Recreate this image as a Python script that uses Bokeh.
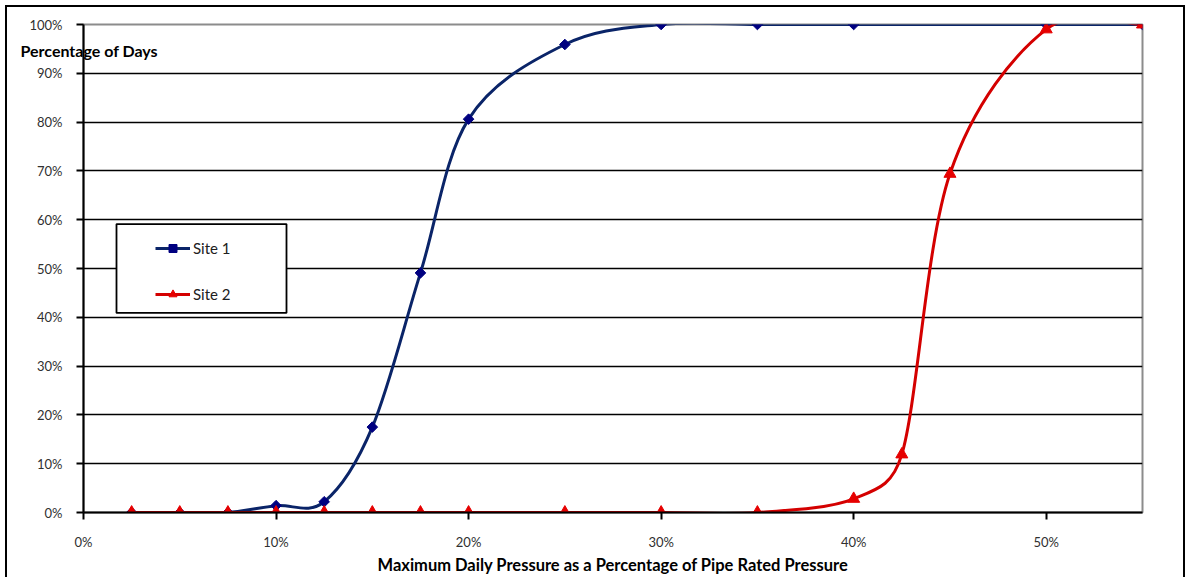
import math
from bokeh.plotting import figure
from bokeh.models import (Range1d, FixedTicker, PrintfTickFormatter, Legend, LegendItem,
                          BoxAnnotation, Title)
from bokeh.embed import file_html
from bokeh.resources import INLINE

# ---- data ----
site1_x = [2.5, 5, 7.5, 10, 12.5, 15, 17.5, 20, 25, 30, 35, 40, 50, 55]
site1_y = [0, 0, 0, 1.4, 2.2, 17.5, 49.1, 80.6, 95.9, 100, 100, 100, 100, 100]
site2_x = [2.5, 5, 7.5, 10, 12.5, 15, 17.5, 20, 25, 30, 35, 40, 42.5, 45, 50, 55]
site2_y = [0, 0, 0, 0, 0, 0, 0, 0, 0, 0, 0, 2.8, 11.9, 69.4, 99.0, 100]
x_ticks = [0, 10, 20, 30, 40, 50]
y_ticks = [0, 10, 20, 30, 40, 50, 60, 70, 80, 90, 100]

FONT = "Lato"
W, H = 1185, 577
ML, MR, MT, MB = 83, 43, 24, 59
X0, X1, Y0, Y1 = 0, 55, 0, 100
SX = (W - ML - MR) / (X1 - X0)   # px per data unit
SY = (H - MT - MB) / (Y1 - Y0)


def smooth_segments(xs, ys):
    """Excel-style smoothed line: cubic Bezier control points per segment."""
    pts = list(zip(xs, ys))
    n = len(pts)

    def dist(a, b):
        return math.hypot((a[0] - b[0]) * SX, (a[1] - b[1]) * SY)

    out = {k: [] for k in ("x0", "y0", "x1", "y1", "cx0", "cy0", "cx1", "cy1")}
    for i in range(n - 1):
        p0 = pts[i - 1] if i > 0 else pts[i]
        p1, p2 = pts[i], pts[i + 1]
        p3 = pts[i + 2] if i + 2 < n else pts[i + 1]
        d12, d02, d13 = dist(p1, p2), dist(p0, p2), dist(p1, p3)
        f1 = f2 = 1 / 6
        if d02 > 0 and d02 / 6 > d12 / 2:
            f1 = d12 / 2 / d02
        if d13 > 0 and d13 / 6 > d12 / 2:
            f2 = d12 / 2 / d13
        out["x0"].append(p1[0]); out["y0"].append(p1[1])
        out["x1"].append(p2[0]); out["y1"].append(p2[1])
        out["cx0"].append(p1[0] + f1 * (p2[0] - p0[0]))
        out["cy0"].append(p1[1] + f1 * (p2[1] - p0[1]))
        out["cx1"].append(p2[0] - f2 * (p3[0] - p1[0]))
        out["cy1"].append(p2[1] - f2 * (p3[1] - p1[1]))
    return out


# y-axis title as a plot title (side-panel text is not clipped to the frame)
ytitle = Title(text="Percentage of Days", align="left", vertical_align="bottom",
               offset=20 - ML, standoff=-70,
               text_font=FONT, text_font_style="bold", text_font_size="16px",
               text_color="black")

p = figure(width=W, height=H, output_backend="svg", toolbar_location=None,
           x_range=Range1d(X0, X1), y_range=Range1d(Y0, Y1), title=ytitle,
           min_border_left=ML, min_border_right=MR, min_border_top=MT, min_border_bottom=MB)
p.styles = {"box-shadow": "inset 5px 5px 0 0 white, inset 7px 7px 0 0 black, inset -2px 0 0 0 black"}

p.outline_line_color = "#8c8c8c"
p.outline_line_width = 2
p.background_fill_color = "white"
p.border_fill_alpha = 0

p.xgrid.visible = False
p.ygrid.grid_line_color = "black"
p.ygrid.grid_line_width = 1.3

for ax in (p.xaxis[0], p.yaxis[0]):
    ax.axis_line_color = "black"
    ax.axis_line_width = 2
    ax.major_tick_line_color = "black"
    ax.major_tick_line_width = 2
    ax.major_tick_in = 0
    ax.major_tick_out = 7
    ax.minor_tick_line_color = None
    ax.major_label_text_font = FONT
    ax.major_label_text_font_size = "13px"
    ax.major_label_text_color = "#303030"
    ax.major_label_standoff = 14
    ax.formatter = PrintfTickFormatter(format="%d%%")

p.xaxis[0].ticker = FixedTicker(ticks=x_ticks)
p.yaxis[0].ticker = FixedTicker(ticks=y_ticks)
p.xaxis[0].axis_label = "Maximum Daily Pressure as a Percentage of Pipe Rated Pressure"
p.xaxis[0].axis_label_text_font = FONT
p.xaxis[0].axis_label_text_font_style = "bold"
p.xaxis[0].axis_label_text_font_size = "16.5px"
p.xaxis[0].axis_label_text_color = "black"
p.xaxis[0].axis_label_standoff = 2

BLUE_LINE, BLUE_MARK = "#0a2468", "#000080"
RED_LINE, RED_MARK = "#d40000", "#e60000"

s1 = smooth_segments(site1_x, site1_y)
s2 = smooth_segments(site2_x, site2_y)

b1 = p.bezier(source=s1, x0="x0", y0="y0", x1="x1", y1="y1", cx0="cx0", cy0="cy0",
              cx1="cx1", cy1="cy1", line_color=BLUE_LINE, line_width=3)
m1 = p.scatter(site1_x, site1_y, marker="square", angle=math.pi / 4, size=7.5,
               fill_color=BLUE_MARK, line_color=BLUE_MARK)
b2 = p.bezier(source=s2, x0="x0", y0="y0", x1="x1", y1="y1", cx0="cx0", cy0="cy0",
              cx1="cx1", cy1="cy1", line_color=RED_LINE, line_width=3)
m2 = p.scatter(site2_x, site2_y, marker="triangle", size=12, fill_color=RED_MARK,
               line_color=RED_MARK)

# legend box
box = BoxAnnotation(left=(116 - 83) / SX, right=(286 - 83) / SX,
                    top=(518 - 226) / SY, bottom=(518 - 316) / SY,
                    fill_color="white", fill_alpha=1, line_color="black",
                    line_alpha=1, line_width=1.8)
p.add_layout(box)

legend = Legend(items=[LegendItem(label="Site 1", renderers=[b1, m1]),
                       LegendItem(label="Site 2", renderers=[b2, m2])],
                location=(72, 208), padding=0, margin=0, spacing=26,
                glyph_width=35, glyph_height=20, label_standoff=3,
                label_text_font=FONT, label_text_font_size="15px",
                label_text_color="#202020",
                border_line_alpha=0, background_fill_alpha=0)
p.add_layout(legend)

open("out.html", "w").write(file_html(p, INLINE))
